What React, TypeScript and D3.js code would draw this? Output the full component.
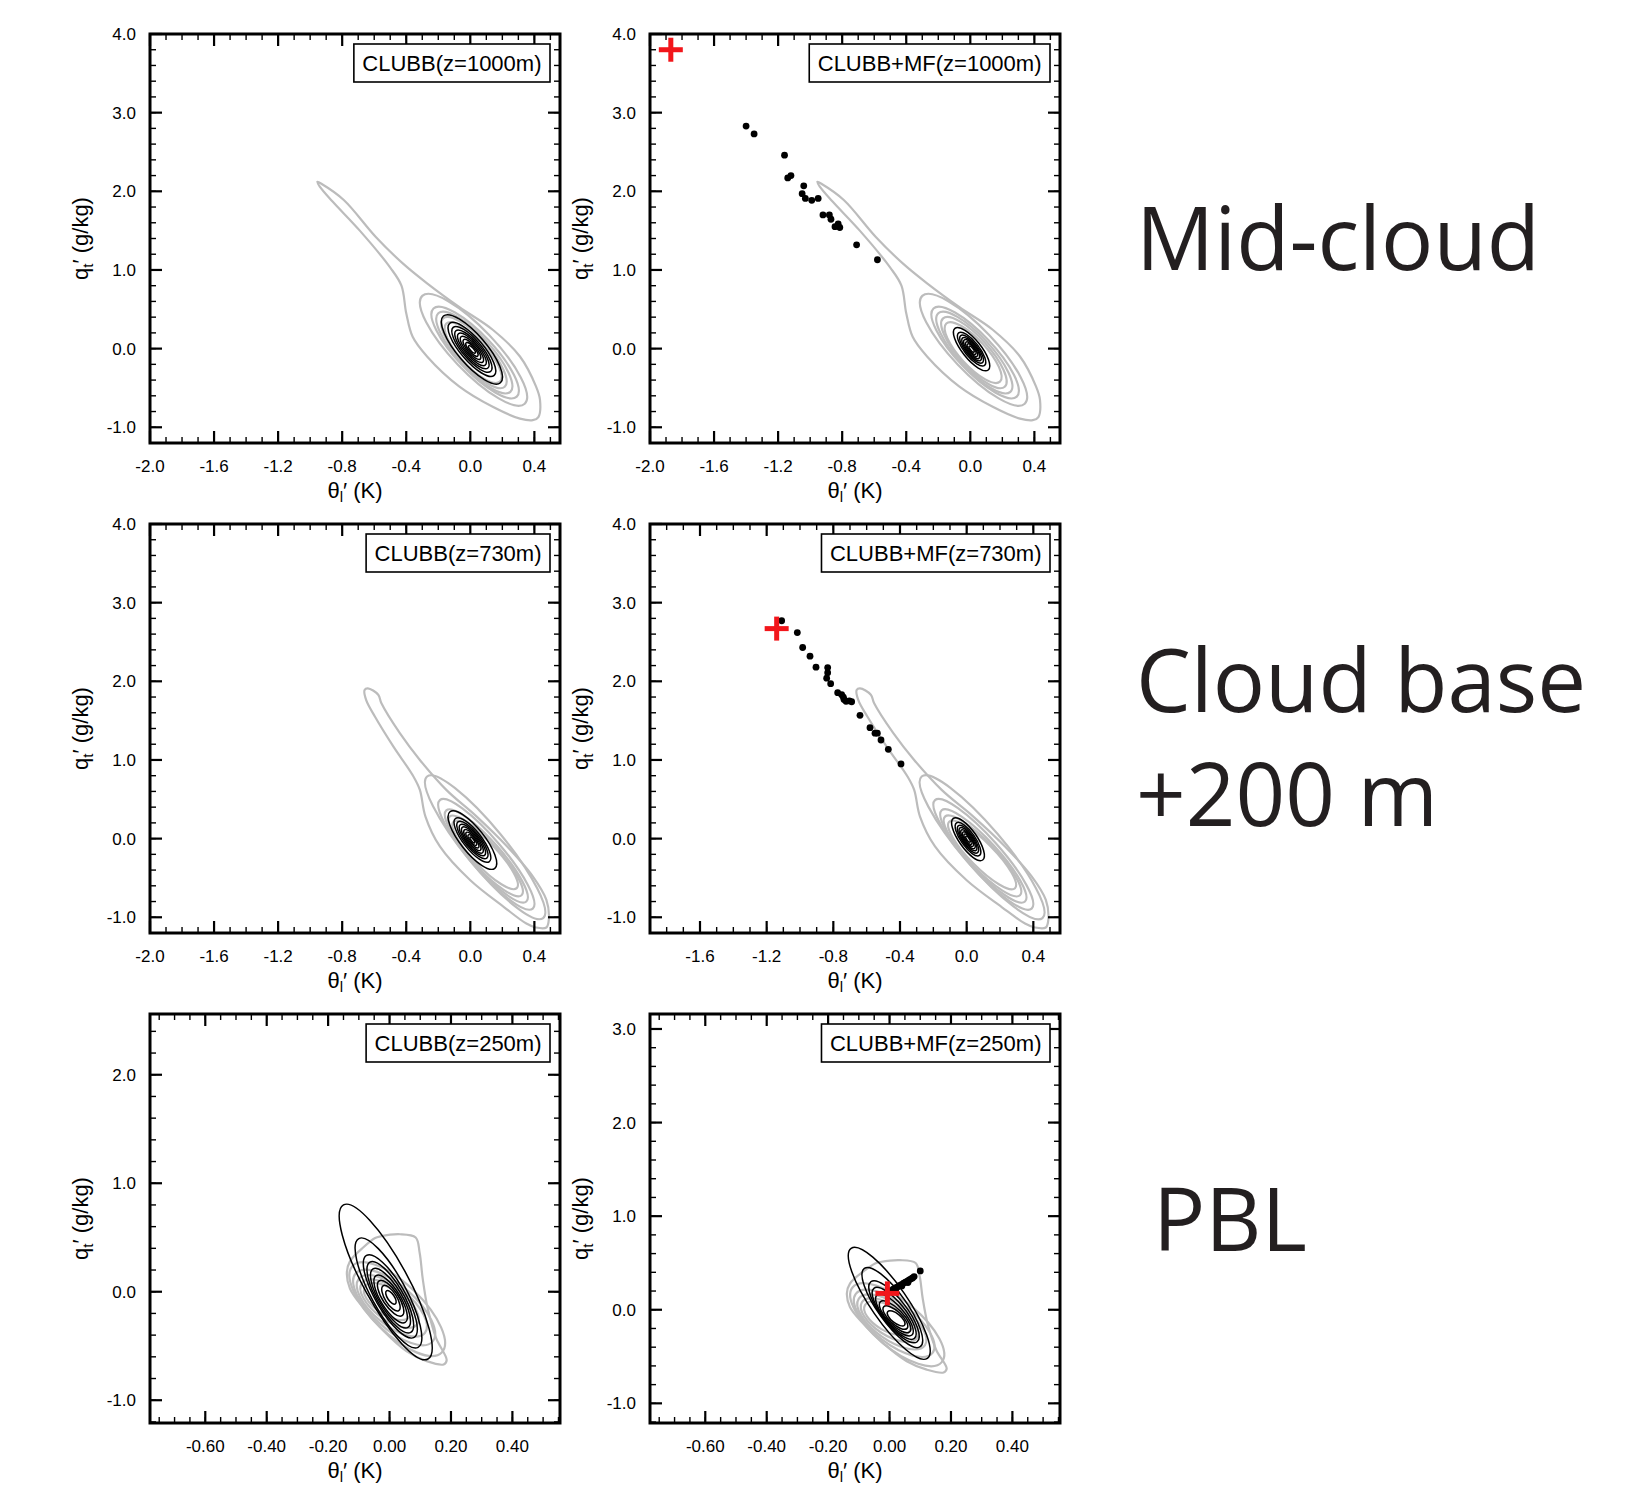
import React, { useLayoutEffect, useRef, useState } from 'react';
import * as d3 from 'd3';

// where the six frames sit on the page
const COL_X = [150, 650];
const ROW_Y = [34, 524, 1014];
const PW = 410;
const PH = 409;

// axis ranges
const xWide = [-2.0, 0.56];
const xMid = [-1.9, 0.56];
const xPbl = [-0.78, 0.555];
const yCloud = [-1.2, 4.0];
const yPblL = [-1.21, 2.56];
const yPblR = [-1.21, 3.16];

// tick values and labels
const xTicksWide = [-2.0, -1.6, -1.2, -0.8, -0.4, 0.0, 0.4];
const xLabelsWide = ['-2.0', '-1.6', '-1.2', '-0.8', '-0.4', '0.0', '0.4'];
const xTicksMid = [-1.6, -1.2, -0.8, -0.4, 0.0, 0.4];
const xLabelsMid = ['-1.6', '-1.2', '-0.8', '-0.4', '0.0', '0.4'];
const xTicksPbl = [-0.6, -0.4, -0.2, 0.0, 0.2, 0.4];
const xLabelsPbl = ['-0.60', '-0.40', '-0.20', '0.00', '0.20', '0.40'];
const yTicksCloud = [-1, 0, 1, 2, 3, 4];
const yLabelsCloud = ['-1.0', '0.0', '1.0', '2.0', '3.0', '4.0'];
const yTicksPblL = [-1, 0, 1, 2];
const yLabelsPblL = ['-1.0', '0.0', '1.0', '2.0'];
const yTicksPblR = [-1, 0, 1, 2, 3];
const yLabelsPblR = ['-1.0', '0.0', '1.0', '2.0', '3.0'];

// LES joint PDF (grey): outer contour as a traced outline, inner ones as [x1,y1,x2,y2,widthRatio]
const gray1000Edge = [
  [-0.955, 2.12], [-0.925, 2.09], [-0.79, 1.89], [-0.59, 1.42], [-0.42, 1.08], [-0.27, 0.83],
  [-0.07, 0.53], [0.14, 0.24], [0.31, -0.1], [0.41, -0.48], [0.435, -0.65], [0.425, -0.87],
  [0.39, -0.91], [0.31, -0.89], [0.14, -0.74], [-0.07, -0.48], [-0.27, -0.1], [-0.36, 0.15],
  [-0.4, 0.45], [-0.43, 0.8], [-0.5, 1.03], [-0.69, 1.5], [-0.86, 1.87], [-0.94, 2.06],
];
const gray1000Rings = [
  [-0.3, 0.67, 0.34, -0.7, 0.29],
  [-0.23, 0.51, 0.29, -0.61, 0.3],
  [-0.2, 0.45, 0.25, -0.55, 0.31],
  [-0.17, 0.385, 0.215, -0.485, 0.32],
  [-0.15, 0.32, 0.185, -0.42, 0.33],
];
const gray730Edge = [
  [-0.64, 1.91], [-0.575, 1.83], [-0.555, 1.72], [-0.44, 1.34], [-0.315, 1.0], [-0.15, 0.62],
  [0.04, 0.28], [0.23, -0.1], [0.39, -0.48], [0.475, -0.78], [0.49, -1.03], [0.475, -1.13],
  [0.41, -1.13], [0.35, -1.08], [0.21, -0.87], [0.0, -0.53], [-0.19, -0.1], [-0.28, 0.28],
  [-0.315, 0.62], [-0.355, 0.79], [-0.48, 1.17], [-0.595, 1.55], [-0.65, 1.76], [-0.66, 1.89],
];
const gray730Rings = [
  [-0.27, 0.79, 0.455, -1.01, 0.22],
  [-0.19, 0.49, 0.39, -0.89, 0.23],
  [-0.15, 0.36, 0.35, -0.8, 0.24],
  [-0.13, 0.28, 0.32, -0.72, 0.25],
  [-0.105, 0.215, 0.29, -0.63, 0.26],
];
const gray250Edge = [
  [-0.03, 0.51], [0.034, 0.53], [0.085, 0.5], [0.098, 0.36], [0.108, 0.12], [0.124, -0.15],
  [0.152, -0.43], [0.186, -0.63], [0.176, -0.67], [0.121, -0.64], [0.056, -0.55], [-0.02, -0.36],
  [-0.085, -0.15], [-0.129, 0.03], [-0.139, 0.175], [-0.129, 0.28], [-0.085, 0.41], [-0.047, 0.495],
];
const gray250Rings = [
  [-0.12, 0.24, 0.17, -0.56, 0.4],
  [-0.11, 0.17, 0.14, -0.46, 0.42],
  [-0.1, 0.12, 0.115, -0.38, 0.44],
  [-0.09, 0.08, 0.09, -0.3, 0.46],
  [-0.08, 0.05, 0.065, -0.23, 0.48],
];

// CLUBB binormal PDF (black), [x1,y1,x2,y2,widthRatio]
const black1000Clubb = [
  [-0.168, 0.414, 0.188, -0.434, 0.33], [-0.129, 0.321, 0.149, -0.341, 0.33],
  [-0.107, 0.27, 0.127, -0.29, 0.33], [-0.09, 0.227, 0.11, -0.247, 0.33],
  [-0.074, 0.189, 0.094, -0.209, 0.33], [-0.058, 0.151, 0.078, -0.171, 0.33],
  [-0.042, 0.113, 0.062, -0.133, 0.33], [-0.026, 0.075, 0.046, -0.095, 0.33],
  [-0.01, 0.037, 0.03, -0.057, 0.33],
];
const black1000Mf = [
  [-0.096, 0.258, 0.112, -0.272, 0.35], [-0.073, 0.2, 0.089, -0.214, 0.35],
  [-0.06, 0.165, 0.076, -0.179, 0.35], [-0.048, 0.136, 0.064, -0.15, 0.35],
  [-0.038, 0.11, 0.054, -0.124, 0.35], [-0.027, 0.083, 0.043, -0.097, 0.35],
  [-0.017, 0.057, 0.033, -0.071, 0.35], [-0.007, 0.03, 0.023, -0.044, 0.35],
];
const black730Clubb = [
  [-0.127, 0.342, 0.153, -0.378, 0.33], [-0.093, 0.256, 0.119, -0.292, 0.33],
  [-0.077, 0.212, 0.103, -0.248, 0.33], [-0.063, 0.176, 0.089, -0.212, 0.33],
  [-0.05, 0.144, 0.076, -0.18, 0.33], [-0.037, 0.112, 0.063, -0.148, 0.33],
  [-0.025, 0.079, 0.051, -0.115, 0.33], [-0.012, 0.047, 0.038, -0.083, 0.33],
  [-0.001, 0.018, 0.027, -0.054, 0.33],
];
const black730Mf = [
  [-0.08, 0.258, 0.096, -0.272, 0.35], [-0.061, 0.2, 0.077, -0.214, 0.35],
  [-0.049, 0.165, 0.065, -0.179, 0.35], [-0.04, 0.136, 0.056, -0.15, 0.35],
  [-0.031, 0.11, 0.047, -0.124, 0.35], [-0.022, 0.083, 0.038, -0.097, 0.35],
  [-0.013, 0.057, 0.029, -0.071, 0.35], [-0.004, 0.03, 0.02, -0.044, 0.35],
];
const black250Clubb = [
  [-0.15, 0.8, 0.125, -0.62, 0.25], [-0.1, 0.49, 0.093, -0.513, 0.28],
  [-0.075, 0.335, 0.08, -0.421, 0.31], [-0.064, 0.272, 0.069, -0.375, 0.32],
  [-0.054, 0.21, 0.06, -0.329, 0.33], [-0.044, 0.148, 0.051, -0.283, 0.35],
  [-0.034, 0.101, 0.041, -0.221, 0.37], [-0.021, 0.055, 0.03, -0.175, 0.39],
  [-0.01, 0.009, 0.019, -0.113, 0.42],
];
const black250Mf = [
  [-0.125, 0.656, 0.123, -0.519, 0.27], [-0.082, 0.442, 0.1, -0.395, 0.3],
  [-0.061, 0.299, 0.09, -0.342, 0.33], [-0.051, 0.229, 0.081, -0.306, 0.34],
  [-0.041, 0.157, 0.073, -0.27, 0.35], [-0.03, 0.085, 0.066, -0.235, 0.37],
  [-0.019, 0.032, 0.057, -0.199, 0.39], [-0.006, -0.02, 0.049, -0.164, 0.42],
];

// mass-flux plumes (black dots) and their mean (red cross)
const plume1000 = [
  [-1.4, 2.83], [-1.35, 2.73], [-1.16, 2.46], [-1.14, 2.17], [-1.12, 2.2], [-1.04, 2.07],
  [-1.05, 1.97], [-1.03, 1.91], [-0.99, 1.885], [-0.95, 1.91], [-0.92, 1.7], [-0.88, 1.7],
  [-0.87, 1.645], [-0.845, 1.55], [-0.825, 1.585], [-0.815, 1.54], [-0.71, 1.32], [-0.58, 1.13],
];
const plume730 = [
  [-1.11, 2.77], [-1.016, 2.62], [-0.984, 2.43], [-0.94, 2.32], [-0.904, 2.18], [-0.834, 2.175],
  [-0.834, 2.11], [-0.84, 2.04], [-0.816, 1.97], [-0.774, 1.855], [-0.75, 1.83], [-0.74, 1.8],
  [-0.736, 1.77], [-0.724, 1.745], [-0.704, 1.75], [-0.69, 1.74], [-0.64, 1.567], [-0.58, 1.41],
  [-0.55, 1.34], [-0.536, 1.34], [-0.514, 1.254], [-0.47, 1.135], [-0.394, 0.95],
];
const plume250 = [
  [-0.005, 0.19], [0.005, 0.205], [0.012, 0.22], [0.02, 0.235], [0.027, 0.245], [0.033, 0.26],
  [0.04, 0.27], [0.046, 0.285], [0.052, 0.295], [0.058, 0.305], [0.064, 0.32], [0.07, 0.33],
  [0.075, 0.34], [0.08, 0.355], [0.02, 0.22], [0.04, 0.255], [0.06, 0.29], [0.1, 0.415],
];
const cross1000 = [-1.87, 3.8];
const cross730 = [-1.14, 2.67];
const cross250 = [-0.007, 0.175];

const sideLabels = [
  { text: 'Mid-cloud', x: 1136, y: 270 },
  { text: 'Cloud base', x: 1136, y: 712 },
  { text: '+200 m', x: 1136, y: 826 },
  { text: 'PBL', x: 1153, y: 1251 },
];

const GREY = '#bcbcbc';
const RED = '#f2161b';

const panels = [
  { id: 'p1', col: 0, row: 0, xd: xWide, yd: yCloud, xt: xTicksWide, xl: xLabelsWide, xm: 0.1,
    yt: yTicksCloud, yl: yLabelsCloud, edge: gray1000Edge, rings: gray1000Rings, black: black1000Clubb,
    label: 'CLUBB(z=1000m)' },
  { id: 'p2', col: 1, row: 0, xd: xWide, yd: yCloud, xt: xTicksWide, xl: xLabelsWide, xm: 0.1,
    yt: yTicksCloud, yl: yLabelsCloud, edge: gray1000Edge, rings: gray1000Rings, black: black1000Mf,
    dots: plume1000, cross: cross1000, label: 'CLUBB+MF(z=1000m)' },
  { id: 'p3', col: 0, row: 1, xd: xWide, yd: yCloud, xt: xTicksWide, xl: xLabelsWide, xm: 0.1,
    yt: yTicksCloud, yl: yLabelsCloud, edge: gray730Edge, rings: gray730Rings, black: black730Clubb,
    label: 'CLUBB(z=730m)' },
  { id: 'p4', col: 1, row: 1, xd: xMid, yd: yCloud, xt: xTicksMid, xl: xLabelsMid, xm: 0.1,
    yt: yTicksCloud, yl: yLabelsCloud, edge: gray730Edge, rings: gray730Rings, black: black730Mf,
    dots: plume730, cross: cross730, label: 'CLUBB+MF(z=730m)' },
  { id: 'p5', col: 0, row: 2, xd: xPbl, yd: yPblL, xt: xTicksPbl, xl: xLabelsPbl, xm: 0.05,
    yt: yTicksPblL, yl: yLabelsPblL, edge: gray250Edge, rings: gray250Rings, black: black250Clubb,
    label: 'CLUBB(z=250m)' },
  { id: 'p6', col: 1, row: 2, xd: xPbl, yd: yPblR, xt: xTicksPbl, xl: xLabelsPbl, xm: 0.05,
    yt: yTicksPblR, yl: yLabelsPblR, edge: gray250Edge, rings: gray250Rings, black: black250Mf,
    dots: plume250, cross: cross250, label: 'CLUBB+MF(z=250m)' },
];

function minors(dom, step) {
  const lo = Math.ceil(dom[0] / step - 1e-6);
  const hi = Math.floor(dom[1] / step + 1e-6);
  return d3.range(lo, hi + 1).map((i) => +(i * step).toFixed(4))
    .filter((v) => v > dom[0] + 1e-6 && v < dom[1] - 1e-6);
}

function Ring({ r, x, y, stroke, width }) {
  const [x1, y1, x2, y2, k] = r;
  const ax = x(x1), ay = y(y1), bx = x(x2), by = y(y2);
  const cx = (ax + bx) / 2, cy = (ay + by) / 2;
  const a = Math.hypot(bx - ax, by - ay) / 2;
  const ang = (Math.atan2(by - ay, bx - ax) * 180) / Math.PI;
  return (
    <ellipse cx={cx} cy={cy} rx={a} ry={a * k} transform={`rotate(${ang} ${cx} ${cy})`}
      fill="none" stroke={stroke} strokeWidth={width} />
  );
}

function Legend({ right, top, text }) {
  const ref = useRef(null);
  const [w, setW] = useState(150);
  useLayoutEffect(() => {
    if (ref.current) setW(ref.current.getComputedTextLength());
  }, [text]);
  const pad = 8.5;
  return (
    <g>
      <rect x={right - w - 2 * pad} y={top} width={w + 2 * pad} height={38} fill="white"
        stroke="black" strokeWidth={1.6} />
      <text ref={ref} x={right - pad} y={top + 27} textAnchor="end" fontSize={22}>{text}</text>
    </g>
  );
}

function Panel({ p }) {
  const x0 = COL_X[p.col];
  const y0 = ROW_Y[p.row];
  const x = d3.scaleLinear().domain(p.xd).range([x0, x0 + PW]);
  const y = d3.scaleLinear().domain(p.yd).range([y0 + PH, y0]);
  const outline = d3.line().x((d) => x(d[0])).y((d) => y(d[1])).curve(d3.curveCatmullRomClosed.alpha(0.5));
  const xMin = minors(p.xd, p.xm);
  const yMin = minors(p.yd, 0.2);
  const big = 12, small = 6;

  return (
    <g>
      <defs>
        <clipPath id={`clip-${p.id}`}>
          <rect x={x0} y={y0} width={PW} height={PH} />
        </clipPath>
      </defs>
      <g clipPath={`url(#clip-${p.id})`}>
        <path d={outline(p.edge)} fill="none" stroke={GREY} strokeWidth={2.2} />
        {p.rings.map((r, i) => <Ring key={i} r={r} x={x} y={y} stroke={GREY} width={2.2} />)}
        {p.black.map((r, i) => <Ring key={i} r={r} x={x} y={y} stroke="black" width={1.5} />)}
        {(p.dots || []).map((d, i) => <circle key={i} cx={x(d[0])} cy={y(d[1])} r={3.4} fill="black" />)}
        {p.cross && (
          <g stroke={RED} strokeWidth={5}>
            <line x1={x(p.cross[0]) - 12} x2={x(p.cross[0]) + 12} y1={y(p.cross[1])} y2={y(p.cross[1])} />
            <line x1={x(p.cross[0])} x2={x(p.cross[0])} y1={y(p.cross[1]) - 12} y2={y(p.cross[1]) + 12} />
          </g>
        )}
      </g>

      <g stroke="black">
        {xMin.map((v) => (
          <g key={`xm${v}`} strokeWidth={1.4}>
            <line x1={x(v)} x2={x(v)} y1={y0 + PH} y2={y0 + PH - small} />
            <line x1={x(v)} x2={x(v)} y1={y0} y2={y0 + small} />
          </g>
        ))}
        {p.xt.map((v) => (
          <g key={`xt${v}`} strokeWidth={2.2}>
            <line x1={x(v)} x2={x(v)} y1={y0 + PH} y2={y0 + PH - big} />
            <line x1={x(v)} x2={x(v)} y1={y0} y2={y0 + big} />
          </g>
        ))}
        {yMin.map((v) => (
          <g key={`ym${v}`} strokeWidth={1.4}>
            <line x1={x0} x2={x0 + small} y1={y(v)} y2={y(v)} />
            <line x1={x0 + PW} x2={x0 + PW - small} y1={y(v)} y2={y(v)} />
          </g>
        ))}
        {p.yt.map((v) => (
          <g key={`yt${v}`} strokeWidth={2.2}>
            <line x1={x0} x2={x0 + big} y1={y(v)} y2={y(v)} />
            <line x1={x0 + PW} x2={x0 + PW - big} y1={y(v)} y2={y(v)} />
          </g>
        ))}
      </g>
      <rect x={x0} y={y0} width={PW} height={PH} fill="none" stroke="black" strokeWidth={3} />

      <g fontSize={17}>
        {p.xt.map((v, i) => (
          <text key={`xl${v}`} x={x(v)} y={y0 + PH + 29} textAnchor="middle">{p.xl[i]}</text>
        ))}
        {p.yt.map((v, i) => (
          <text key={`yl${v}`} x={x0 - 14} y={y(v)} dy="0.36em" textAnchor="end">{p.yl[i]}</text>
        ))}
      </g>

      <text x={x0 + PW / 2} y={y0 + PH + 55} textAnchor="middle" fontSize={22}>
        θ<tspan dy={4} fontSize={15}>l</tspan><tspan dy={-4}>′ (K)</tspan>
      </text>
      <text transform={`translate(${x0 - 62},${y0 + PH / 2}) rotate(-90)`} textAnchor="middle" fontSize={22}>
        q<tspan dy={5} fontSize={15}>t</tspan><tspan dy={-5}>′ (g/kg)</tspan>
      </text>

      <Legend right={x0 + PW - 10} top={y0 + 10} text={p.label} />
    </g>
  );
}

export default function App() {
  return (
    <svg width={1646} height={1486} style={{ position: 'absolute', left: 0, top: 0 }}
      fontFamily="'Liberation Sans', Arial, Helvetica, sans-serif">
      <rect width={1646} height={1486} fill="white" />
      {panels.map((p) => <Panel key={p.id} p={p} />)}
      {sideLabels.map((s) => (
        <text key={s.text} x={s.x} y={s.y} fontSize={87} fill="#231f20" fontFamily="'Open Sans', 'Noto Sans', sans-serif">
          {s.text}
        </text>
      ))}
    </svg>
  );
}
